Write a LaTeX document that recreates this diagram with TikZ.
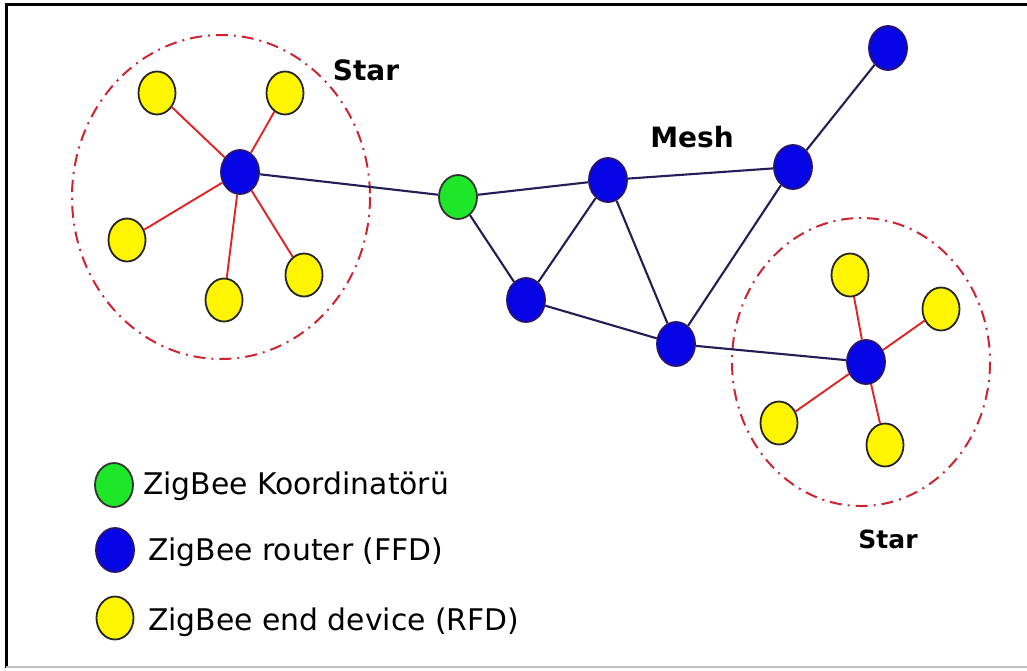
\documentclass[tikz,border=0pt]{standalone}
\usepackage{fontspec}
\setmainfont{DejaVu Sans}
\usetikzlibrary{shapes.geometric}
\definecolor{navy}{RGB}{35,30,85}
\definecolor{redline}{RGB}{225,35,35}
\definecolor{ring}{RGB}{205,35,50}
\definecolor{fblue}{RGB}{5,5,230}
\definecolor{fyellow}{RGB}{255,245,0}
\definecolor{fgreen}{RGB}{30,230,40}
\definecolor{bluerim}{RGB}{40,20,110}
\tikzset{
  dev/.style={ellipse, inner sep=0pt, minimum width=38pt, minimum height=44pt, line width=1.8pt},
  router/.style={dev, fill=fblue, draw=bluerim},
  enddev/.style={dev, fill=fyellow, draw=black!85, minimum width=37pt, minimum height=43pt},
  coord/.style={dev, fill=fgreen, draw=black!80},
  mesh/.style={draw=navy, line width=2.1pt},
  starl/.style={draw=redline, line width=1.9pt},
  ringstyle/.style={draw=ring, line width=2pt, dash pattern=on 12pt off 6pt on 2pt off 6pt},
  title/.style={font=\fontsize{28}{32}\selectfont\bfseries, anchor=base, inner sep=0pt},
  legtext/.style={font=\fontsize{29.8}{34}\selectfont, anchor=base west, inner sep=0pt}
}
\begin{document}
\begin{tikzpicture}[x=1pt,y=-1pt]
\useasboundingbox (0,0) rectangle (1027,670);
\fill[white] (0,0) rectangle (1027,670);
% frame
\draw[black, line width=3pt] (6,668) -- (6,4) -- (1030,4);
\draw[black!25, line width=1.5pt] (6,667) -- (1030,667);

% rings
\draw[ringstyle] (221,197) ellipse [x radius=149, y radius=162];
\draw[ringstyle] (861,362) ellipse [x radius=129, y radius=144];

% left star
\node[router] (c1) at (240,172) {};
\node[enddev] (y1) at (157,93) {};
\node[enddev] (y2) at (285,93) {};
\node[enddev] (y3) at (127,240) {};
\node[enddev] (y4) at (304,275) {};
\node[enddev] (y5) at (224,300) {};

% coordinator and mesh
\node[coord] (g) at (458,197) {};
\node[router] (m1) at (608,180) {};
\node[router] (m2) at (526,300) {};
\node[router] (m3) at (676,344) {};
\node[router] (m4) at (793,167) {};
\node[router] (m5) at (888,48) {};

% right star
\node[router] (c2) at (866,362) {};
\node[enddev] (z1) at (850,275) {};
\node[enddev] (z2) at (941,309) {};
\node[enddev] (z3) at (779,423) {};
\node[enddev] (z4) at (885,445) {};

% red links
\foreach \n in {y1,y2,y3,y4,y5} \draw[starl] (c1) -- (\n);
\foreach \n in {z1,z2,z3,z4} \draw[starl] (c2) -- (\n);

% mesh links
\draw[mesh] (c1) -- (g);
\draw[mesh] (g) -- (m1);
\draw[mesh] (g) -- (m2);
\draw[mesh] (m2) -- (m1);
\draw[mesh] (m1) -- (m3);
\draw[mesh] (m2) -- (m3);
\draw[mesh] (m3) -- (m4);
\draw[mesh] (m1) -- (m4);
\draw[mesh] (m4) -- (m5);
\draw[mesh] (m3) -- (c2);

% labels
\node[title] (t1) at (366,80) {Star};
\node[title] (t2) at (692,147) {Mesh};
\node[title, font=\fontsize{25}{30}\selectfont\bfseries] (t3) at (888,548) {Star};

% legend
\node[coord] (lg) at (114,485) {};
\node[router] (lb) at (115,550) {};
\node[enddev] (ly) at (115,618) {};
\node[legtext] (tg) at (143,494) {ZigBee Koordinatörü};
\node[legtext] (tb) at (148,560) {ZigBee router (FFD)};
\node[legtext] (ty) at (148,630) {ZigBee end device (RFD)};
\end{tikzpicture}
\end{document}
